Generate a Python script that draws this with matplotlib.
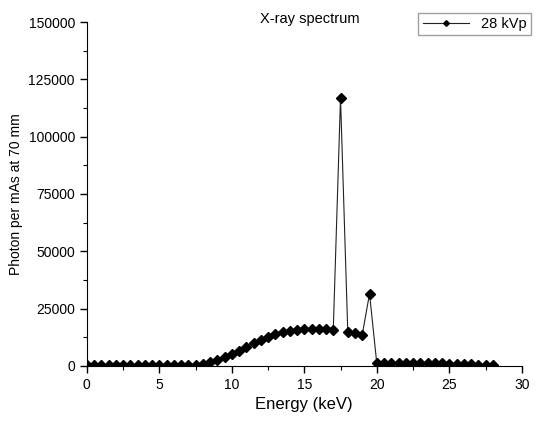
import matplotlib
matplotlib.use('Agg')
import matplotlib.pyplot as plt
from matplotlib.ticker import MultipleLocator

plt.rcParams['font.family'] = ['Liberation Sans', 'DejaVu Sans']

# Energy bins (keV) and photon counts
energy = [0.0, 0.5, 1.0, 1.5, 2.0, 2.5, 3.0, 3.5, 4.0, 4.5,
          5.0, 5.5, 6.0, 6.5, 7.0, 7.5, 8.0, 8.5, 9.0, 9.5,
          10.0, 10.5, 11.0, 11.5, 12.0, 12.5, 13.0, 13.5, 14.0, 14.5,
          15.0, 15.5, 16.0, 16.5, 17.0, 17.5, 18.0, 18.5, 19.0, 19.5,
          20.0, 20.5, 21.0, 21.5, 22.0, 22.5, 23.0, 23.5, 24.0, 24.5,
          25.0, 25.5, 26.0, 26.5, 27.0, 27.5, 28.0]
photons = [200, 250, 300, 300, 300, 300, 300, 300, 300, 300,
           300, 300, 300, 350, 400, 500, 900, 1600, 2600, 3900,
           5400, 6600, 8400, 9900, 11300, 12800, 13800, 14700, 15300, 15700,
           16100, 16200, 16000, 15900, 15700, 117000, 15000, 14500, 13600, 31500,
           1200, 1400, 1400, 1300, 1300, 1300, 1200, 1200, 1100, 1100,
           1000, 900, 800, 700, 600, 400, 300]
series_label = '28 kVp'

fig = plt.figure(figsize=(5.39, 4.24), dpi=100)
ax = fig.add_axes([0.161, 0.137, 0.807, 0.811])

ax.plot(energy, photons, color='#222222', linewidth=0.8, marker='D',
        markersize=4.8, markerfacecolor='black', markeredgecolor='black',
        label=series_label)

ax.set_xlim(0, 30)
ax.set_ylim(0, 150000)
ax.xaxis.set_major_locator(MultipleLocator(5))
ax.xaxis.set_minor_locator(MultipleLocator(2.5))
ax.yaxis.set_major_locator(MultipleLocator(25000))
ax.yaxis.set_minor_locator(MultipleLocator(12500))
ax.tick_params(which='major', direction='out', length=5, width=1, labelsize=10)
ax.tick_params(which='minor', direction='out', length=3, width=0.8)

ax.spines['top'].set_visible(False)
ax.spines['right'].set_visible(False)

ax.set_xlabel('Energy (keV)', fontsize=12)
ax.set_ylabel('Photon per mAs at 70 mm', fontsize=10)
fig.text(0.575, 0.955, 'X-ray spectrum', ha='center', va='center', fontsize=10.5)

ax.legend(loc='upper right', bbox_to_anchor=(0.985, 0.97),
          bbox_transform=fig.transFigure, frameon=True, fancybox=False,
          edgecolor='#888888', fontsize=10.5, handlelength=3.2,
          markerscale=0.6, borderpad=0.3, borderaxespad=0)

plt.savefig('out.png', dpi=100)
